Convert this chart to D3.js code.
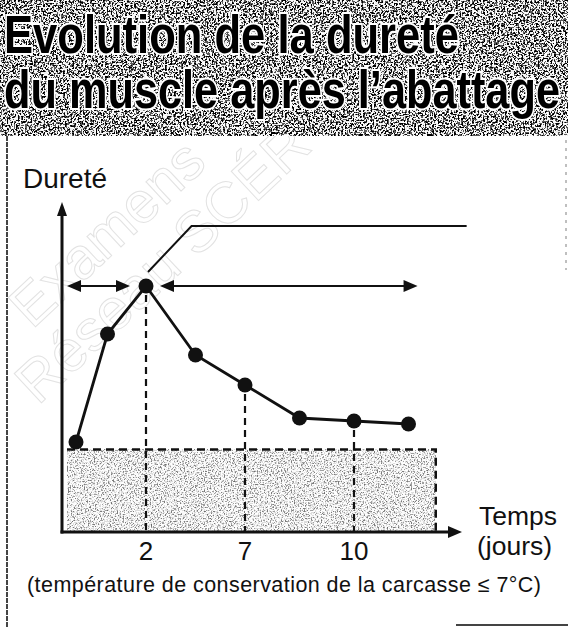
<html>
  <head>
    <meta charset="utf-8" />
    <script src="https://d3js.org/d3.v7.min.js"></script>
    <style>
      body {
        margin: 0;
        background: #fff;
      }
      text {
        font-family: "Liberation Sans", Arial, sans-serif;
      }
    </style>
  </head>

  <body>
    <svg id="chart" width="568" height="628"></svg>

    <script>
      // values (hardness in arbitrary units)
      const jours = [0, 0.9, 2, 4.5, 7, 8.5, 10, 11.5];
      const durete = [3.0, 6.6, 8.2, 5.9, 4.9, 3.8, 3.7, 3.6];
      const tickJours = [2, 7, 10];
      const tickLabels = ["2", "7", "10"];
      const titleLines = ["Evolution de la dureté", "du muscle après l’abattage"];
      const zoneDurete = 2.75; // top of shaded zone
      const zoneFin = 12.25; // shaded zone ends (days)
      const flecheFin = 11.75; // end of the long arrow (days)
      const renvoi = { coude: 4.3, fin: 13.1, niveau: 10.2 };

      const points = jours.map((j, i) => ({ jour: j, val: durete[i] }));

      svg = d3.select("svg#chart");

      // scanned grain filters
      const defs = svg.append("defs");
      function grain(id, table, freq, seed) {
        let f = defs
          .append("filter")
          .attr("id", id)
          .attr("x", 0)
          .attr("y", 0)
          .attr("width", "100%")
          .attr("height", "100%");
        f.append("feTurbulence")
          .attr("type", "fractalNoise")
          .attr("baseFrequency", freq)
          .attr("numOctaves", 2)
          .attr("seed", seed);
        f.append("feColorMatrix")
          .attr("type", "matrix")
          .attr("values", "1 0 0 0 0  1 0 0 0 0  1 0 0 0 0  0 0 0 0 1");
        let ct = f.append("feComponentTransfer");
        ["R", "G", "B"].forEach((c) =>
          ct.append("feFunc" + c).attr("type", "discrete").attr("tableValues", table)
        );
      }
      grain("banner", "0 0 0 0 0.1 0.85 1 1 1 1", 0.55, 4);
      grain("zone", "0.15 0.15 0.2 0.35 0.72 0.95 1 1 1 1", 0.7, 9);

      // faint watermark (under everything)
      const wm = svg.append("g").attr("fill", "none").attr("stroke", "#e2e2e2").attr("stroke-width", 1);
      wm.append("text")
        .attr("transform", "translate(32,330) rotate(-43)")
        .style("font-size", "58px")
        .text("Examens");
      wm.append("text")
        .attr("transform", "translate(38,406) rotate(-43)")
        .style("font-size", "58px")
        .text("Réseau SCÉR");

      // title banner
      svg
        .append("rect")
        .attr("x", 0)
        .attr("y", 0)
        .attr("width", 568)
        .attr("height", 136)
        .attr("filter", "url(#banner)");

      svg
        .selectAll("text.title")
        .data(titleLines)
        .join("text")
        .attr("class", "title")
        .attr("x", 4)
        .attr("y", (d, i) => 53 + i * 55)
        .attr("textLength", (d, i) => (i == 0 ? 455 : 556))
        .attr("lengthAdjust", "spacingAndGlyphs")
        .style("font-family", '"Liberation Sans Narrow", "Liberation Sans", Arial, sans-serif')
        .style("font-weight", "bold")
        .style("font-size", "54px")
        .attr("fill", "#000")
        .attr("stroke", "#fff")
        .attr("stroke-width", 4)
        .attr("paint-order", "stroke")
        .text((d) => d);

      // page borders from the scan
      svg.append("line").attr("x1", 7).attr("x2", 7).attr("y1", 136).attr("y2", 628)
        .attr("stroke", "#444").attr("stroke-width", 2).attr("stroke-dasharray", "5,1");
      svg.append("line").attr("x1", 566).attr("x2", 566).attr("y1", 140).attr("y2", 270)
        .attr("stroke", "#aaa").attr("stroke-width", 1.5).attr("stroke-dasharray", "3,5");
      svg.append("line").attr("x1", 456).attr("x2", 568).attr("y1", 625).attr("y2", 625)
        .attr("stroke", "#444").attr("stroke-width", 2);

      // scales
      const axeX = 62;
      const axeY = 532;
      let xScale = d3.scaleLinear().domain([0, 2, 7, 10]).range([76, 146, 245, 354]);
      let yScale = d3.scaleLinear().domain([0, 10]).range([axeY, 232]);

      const ink = "#111";

      // shaded zone
      const zx1 = xScale(zoneFin);
      const zy = yScale(zoneDurete);
      svg
        .append("rect")
        .attr("x", axeX + 5)
        .attr("y", zy)
        .attr("width", zx1 - axeX - 5)
        .attr("height", axeY - zy)
        .attr("filter", "url(#zone)");
      svg
        .append("path")
        .attr("d", `M${axeX + 5},${zy}H${zx1}V${axeY}`)
        .attr("fill", "none")
        .attr("stroke", ink)
        .attr("stroke-width", 2.5)
        .attr("stroke-dasharray", "8,5");

      // dashed drop lines
      svg
        .selectAll("line.drop")
        .data(tickJours)
        .join("line")
        .attr("class", "drop")
        .attr("x1", (d) => xScale(d))
        .attr("x2", (d) => xScale(d))
        .attr("y1", (d) => yScale(durete[jours.indexOf(d)]) + 9)
        .attr("y2", axeY)
        .attr("stroke", ink)
        .attr("stroke-width", 2.2)
        .attr("stroke-dasharray", "7,5");

      // arrow heads
      function head(x, y, dir) {
        let p;
        if (dir == "r") p = [[x, y], [x - 14, y - 6], [x - 14, y + 6]];
        else if (dir == "l") p = [[x, y], [x + 14, y - 6], [x + 14, y + 6]];
        else p = [[x, y], [x - 5, y + 14], [x + 5, y + 14]];
        svg.append("path").attr("d", "M" + p.join("L") + "Z").attr("fill", ink);
      }

      // axes
      svg.append("line").attr("x1", axeX).attr("x2", axeX).attr("y1", axeY + 1.5).attr("y2", 210)
        .attr("stroke", ink).attr("stroke-width", 3);
      head(axeX, 202, "u");
      svg.append("line").attr("x1", axeX - 1.5).attr("x2", 452).attr("y1", axeY).attr("y2", axeY)
        .attr("stroke", ink).attr("stroke-width", 3);
      head(462, axeY, "r");

      // curve
      svg
        .append("path")
        .datum(points)
        .attr("d", d3.line().x((d) => xScale(d.jour)).y((d) => yScale(d.val)))
        .attr("fill", "none")
        .attr("stroke", ink)
        .attr("stroke-width", 2.8);

      svg
        .selectAll("circle")
        .data(points)
        .join("circle")
        .attr("cx", (d) => xScale(d.jour))
        .attr("cy", (d) => yScale(d.val))
        .attr("r", 7.5)
        .attr("fill", ink);

      // double arrows at the peak level
      const pic = points[d3.maxIndex(points, (d) => d.val)];
      const px = xScale(pic.jour);
      const py = yScale(pic.val);
      svg.append("line").attr("x1", axeX + 12).attr("x2", px - 24).attr("y1", py).attr("y2", py)
        .attr("stroke", ink).attr("stroke-width", 2.2);
      head(axeX + 5, py, "l");
      head(px - 16, py, "r");
      svg.append("line").attr("x1", px + 22).attr("x2", xScale(flecheFin) - 8).attr("y1", py).attr("y2", py)
        .attr("stroke", ink).attr("stroke-width", 2.2);
      head(px + 14, py, "l");
      head(xScale(flecheFin), py, "r");

      // leader line
      svg
        .append("path")
        .attr("d", `M${px + 2},${py - 14}L${xScale(renvoi.coude)},${yScale(renvoi.niveau)}H${xScale(renvoi.fin)}`)
        .attr("fill", "none")
        .attr("stroke", ink)
        .attr("stroke-width", 2);

      // texts
      svg.append("text").attr("x", 23).attr("y", 188).style("font-size", "28px").attr("fill", ink).text("Dureté");

      svg
        .selectAll("text.tick")
        .data(tickJours)
        .join("text")
        .attr("class", "tick")
        .attr("x", (d) => xScale(d))
        .attr("y", 560)
        .attr("text-anchor", "middle")
        .style("font-size", "26px")
        .attr("fill", ink)
        .text((d, i) => tickLabels[i]);

      svg.append("text").attr("x", 479).attr("y", 525).style("font-size", "26.5px").attr("fill", ink).text("Temps");
      svg.append("text").attr("x", 477).attr("y", 555).style("font-size", "26.5px").attr("fill", ink).text("(jours)");

      svg
        .append("text")
        .attr("x", 27)
        .attr("y", 592)
        .attr("textLength", 514)
        .style("font-size", "21.5px")
        .attr("fill", ink)
        .text("(température de conservation de la carcasse ≤ 7°C)");
    </script>
  </body>
</html>
